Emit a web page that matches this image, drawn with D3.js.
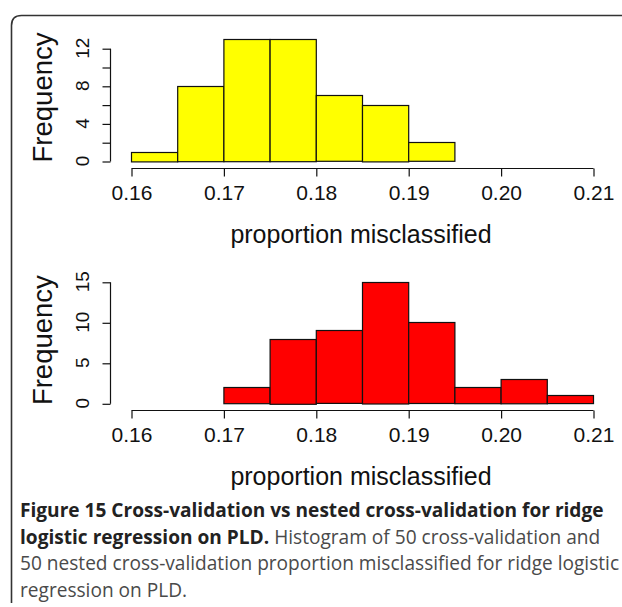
<!DOCTYPE html>
<html><head><meta charset="utf-8">
<script src="https://cdn.jsdelivr.net/npm/d3@7"></script>
<style>
html,body{margin:0;padding:0;background:#fff;}
svg{display:block;}
</style></head>
<body>
<svg id="c" width="622" height="607"></svg>
<script>
const binEdges = [0.16,0.165,0.17,0.175,0.18,0.185,0.19,0.195,0.20,0.205,0.21];
const cvCounts = [1,8,13,13,7,6,2,0,0,0];
const nestedCounts = [0,0,2,8,9,15,10,2,3,1];
const xTicks = [0.16,0.17,0.18,0.19,0.20,0.21];
const xTickLabels = ["0.16","0.17","0.18","0.19","0.20","0.21"];
const cvYTicks = [0,2,4,6,8,10,12];
const cvYLabels = [0,4,8,12];
const nestedYTicks = [0,5,10,15];
const nestedYLabels = [0,5,10,15];
const xTitle = "proportion misclassified";
const yTitle = "Frequency";

const svg = d3.select("#c");
const font = "'Liberation Sans', Arial, sans-serif";

// frame
const fx = 11.5, fy = 15.5, r = 10;
svg.append("path")
  .attr("d", `M${fx},603 L${fx},${fy+r} Q${fx},${fy} ${fx+r},${fy} L622,${fy}`)
  .attr("fill","none").attr("stroke","#333").attr("stroke-width",1.6);

function panel(counts, color, yTicks, yLabels, yBase, pxPerUnit, yMax) {
  const x = d3.scaleLinear().domain([0.16,0.21]).range([131,593]);
  const y = d3.scaleLinear().domain([0,yMax]).range([yBase, yBase - yMax*pxPerUnit]);
  const g = svg.append("g");
  const bins = counts.map((c,i)=>({x0:binEdges[i], x1:binEdges[i+1], c}));
  g.selectAll("rect").data(bins).join("rect")
    .attr("x", d=>x(d.x0)+0.5)
    .attr("width", d=>x(d.x1)-x(d.x0))
    .attr("y", d=>Math.round(y(d.c))+0.5)
    .attr("height", d=>y(0)-y(d.c))
    .attr("fill", color).attr("stroke","#111").attr("stroke-width",1.2);
  // x axis
  const axisY = yBase + 7;
  const xa = g.append("g").attr("transform",`translate(0.5,${Math.round(axisY)+0.5})`)
    .call(d3.axisBottom(x).tickValues(xTicks).tickFormat((d,i)=>xTickLabels[i]).tickSizeOuter(0).tickSizeInner(8).tickPadding(5));
  xa.select(".domain").attr("stroke","#111").attr("stroke-width",1.2).attr("d",`M${x(0.16)},0H${x(0.21)}`);
  xa.selectAll(".tick line").attr("stroke","#111").attr("stroke-width",1.2);
  xa.selectAll("text").attr("font-family",font).attr("font-size",21).attr("fill","#111").attr("dy","0.9em");
  // y axis
  const axisX = 110;
  const ya = g.append("g").attr("transform",`translate(${axisX+0.5},0.5)`)
    .call(d3.axisLeft(y).tickValues(yTicks).tickFormat("").tickSizeOuter(0).tickSizeInner(8));
  ya.select(".domain").attr("stroke","#111").attr("stroke-width",1.2)
    .attr("d",`M0,${y(yTicks[0])}V${y(yTicks[yTicks.length-1])}`);
  ya.selectAll(".tick line").attr("stroke","#111").attr("stroke-width",1.2);
  g.selectAll(".ylab").data(yLabels).join("text")
    .attr("transform", d=>`translate(89,${y(d)}) rotate(-90)`)
    .attr("text-anchor","middle")
    .attr("font-family",font).attr("font-size",19).attr("fill","#111")
    .text(d=>d);
  // titles
  g.append("text")
    .attr("x", 361).attr("y", axisY + 75)
    .attr("text-anchor","middle").attr("font-family",font).attr("font-size",25).attr("fill","#111")
    .text(xTitle);
  g.append("text")
    .attr("transform", `translate(52,${yBase - yMax*pxPerUnit*0.52}) rotate(-90)`)
    .attr("text-anchor","middle").attr("font-family",font).attr("font-size",27.5).attr("fill","#111")
    .text(yTitle);
}

panel(cvCounts, "#ffff00", cvYTicks, cvYLabels, 161, 9.4, 13);
panel(nestedCounts, "#ff0000", nestedYTicks, nestedYLabels, 403.3, 8.1, 15);

// caption
const cap = svg.append("g").attr("font-family","'Open Sans', 'Noto Sans', sans-serif").attr("font-size",19.1);
const lines = [
  [["Figure 15 Cross-validation vs nested cross-validation for ridge", true]],
  [["logistic regression on PLD.", true], [" Histogram of 50 cross-validation and", false]],
  [["50 nested cross-validation proportion misclassified for ridge logistic", false]],
  [["regression on PLD.", false]]
];
lines.forEach((ln,i)=>{
  const t = cap.append("text").attr("x",20).attr("y",517 + i*26.5);
  ln.forEach(([s,b])=>{
    t.append("tspan").attr("font-weight", b?"bold":"normal").attr("fill", b?"#222":"#4a4a4a").text(s);
  });
});
</script>
</body></html>
